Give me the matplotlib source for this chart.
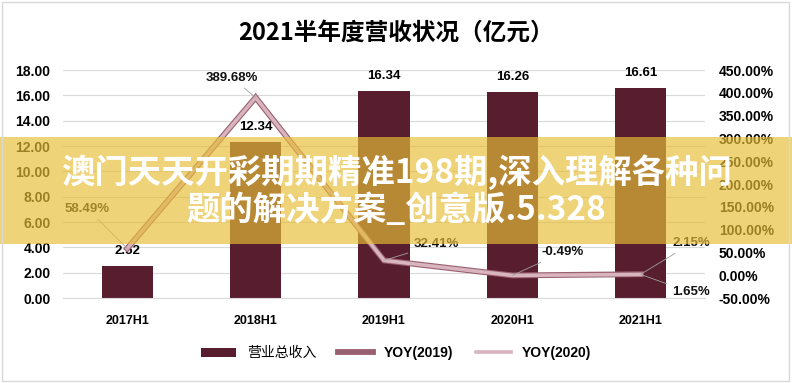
import numpy as np
import matplotlib
matplotlib.use('Agg')
import matplotlib.pyplot as plt
from matplotlib.patches import Rectangle
from matplotlib.ticker import FuncFormatter

plt.rcParams['font.family'] = ['Liberation Sans', 'Noto Sans CJK SC']

# ─── Données ──────────────────────────────────────────────────────────────────
periods = ["2017H1", "2018H1", "2019H1", "2020H1", "2021H1"]
revenue = [2.52, 12.34, 16.34, 16.26, 16.61]
yoy_2019 = [58.49, 389.68, 32.41, -0.49, 2.15]
yoy_2020 = [58.49, 389.68, 32.41, -0.49, 1.65]

BAR = "#581E30"
LINE19 = "#9A6070"
LINE20 = "#D8B4BE"
GRID = "#D9D9D9"

fig = plt.figure(figsize=(7.92, 3.83), dpi=100)
ax = fig.add_axes([63/792, 85/383, 642/792, 228/383])
ax2 = ax.twinx()

x = np.arange(len(periods))
bars = ax.bar(x, revenue, width=0.4, color=BAR, label="营业总收入", zorder=2)
for xi, v in zip(x, revenue):
    ax.annotate(f"{v:.2f}", (xi, v), xytext=(0, 9), textcoords="offset pixels",
                ha="center", va="bottom", fontsize=9.5, fontweight="bold")

ax.set_xlim(-0.5, len(periods) - 0.5)
ax.set_ylim(0, 18)
ax.set_yticks(np.arange(0, 19, 2))
ax.yaxis.set_major_formatter(FuncFormatter(lambda v, p: f"{v:.2f}"))
ax.set_xticks(x)
ax.set_xticklabels(periods, fontweight="bold", fontsize=9)
ax.tick_params(axis="x", length=0, pad=12)
ax.tick_params(axis="y", length=0, pad=9, labelsize=10)
for lab in ax.get_yticklabels():
    lab.set_fontweight("bold")
ax.grid(axis="y", color=GRID, linewidth=0.8)
ax.set_axisbelow(True)
for s in ["top", "left", "right"]:
    ax.spines[s].set_visible(False)
ax.spines["bottom"].set_color(GRID)

l19, = ax2.plot(x, yoy_2019, color=LINE19, linewidth=4.2, label="YOY(2019)",
                solid_joinstyle="miter")
l20, = ax2.plot(x, yoy_2020, color=LINE20, linewidth=2.6, label="YOY(2020)",
                solid_joinstyle="miter")
ax2.set_ylim(-50, 450)
ax2.set_yticks(np.arange(-50, 451, 50))
ax2.yaxis.set_major_formatter(FuncFormatter(lambda v, p: f"{v:.2f}%"))
ax2.tick_params(axis="y", length=0, pad=10, labelsize=10)
for lab in ax2.get_yticklabels():
    lab.set_fontweight("bold")
for s in ax2.spines.values():
    s.set_visible(False)

# étiquettes des taux, avec ligne de rappel
label_pts = [(0, yoy_2019[0]), (1, yoy_2019[1]), (2, yoy_2019[2]),
             (3, yoy_2019[3]), (4, yoy_2019[4]), (4, yoy_2020[4])]
offsets = [(-40, 40), (-24, 20), (52, 16), (50, 23), (51, 31), (50, -18)]
for (xi, v), off in zip(label_pts, offsets):
    ax2.annotate(f"{v:.2f}%", (xi, v), xytext=off, textcoords="offset pixels",
                 ha="center", va="center", fontsize=9.5, fontweight="bold",
                 color="#111111",
                 arrowprops=dict(arrowstyle="-", color="#A0A0A0", lw=0.6,
                                 shrinkA=2, shrinkB=0))

fig.text(0.5, 1 - 33/383, "2021半年度营收状况（亿元）", ha="center", va="center",
         fontsize=17, fontweight="bold", family=['Noto Sans CJK SC'])

leg = fig.legend([bars, l19, l20], ["营业总收入", "YOY(2019)", "YOY(2020)"],
                 loc="center", bbox_to_anchor=(0.5, 1 - 353/383), ncol=3,
                 frameon=False, fontsize=10, handlelength=2.5, handleheight=0.6,
                 handletextpad=0.8, columnspacing=1.6)
for t in leg.get_texts()[1:]:
    t.set_fontweight("bold")

# bandeau superposé
fig.add_artist(Rectangle((0, 1 - 244/383), 1, 107/383, transform=fig.transFigure,
                         facecolor="#E8BE37", edgecolor="none", alpha=0.67, zorder=10))
fig.text(0.5, 1 - 172/383, "澳门天天开彩期期精准198期,深入理解各种问", ha="center",
         va="center", fontsize=24, fontweight="bold", color="white",
         family=['Noto Sans CJK SC'], zorder=11)
fig.text(0.5, 1 - 210/383, "题的解决方案_创意版.5.328", ha="center",
         va="center", fontsize=24, fontweight="bold", color="white",
         family=['Noto Sans CJK SC'], zorder=11)

fig.add_artist(Rectangle((0.003, 0.004), 0.993, 0.99, transform=fig.transFigure,
                         fill=False, edgecolor=GRID, linewidth=1, zorder=12))

plt.savefig("out.png", dpi=100)
plt.close()
